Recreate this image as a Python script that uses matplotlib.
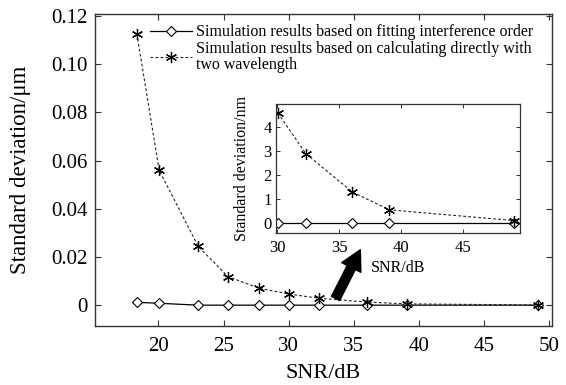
import matplotlib
matplotlib.use("Agg")
import matplotlib.pyplot as plt
import numpy as np

plt.rcParams['font.family'] = ['Liberation Serif', 'DejaVu Serif']
plt.rcParams['mathtext.fontset'] = 'stix'

# ---- data ----
snr = [18.34, 20.05, 23.05, 25.33, 27.70, 30.05, 32.30, 36.05, 39.05, 49.15]
std_fit = [0.0012, 0.0008, 0.00002, 0.00002, 0.00002, 0.00002, 0.00002, 0.00002, 0.00002, 0.00002]
std_direct = [0.1125, 0.0560, 0.0244, 0.0119, 0.0071, 0.0046, 0.0029, 0.0013, 0.00055, 0.0001]

inset_snr = snr[5:]
inset_fit_nm = [v * 1000 for v in std_fit[5:]]
inset_direct_nm = [v * 1000 for v in std_direct[5:]]

main_xticks = [20, 25, 30, 35, 40, 45, 50]
main_yticks = [0, 0.02, 0.04, 0.06, 0.08, 0.10, 0.12]
main_yticklabels = ['0', '0.02', '0.04', '0.06', '0.08', '0.10', '0.12']
inset_xticks = [30, 35, 40, 45]
inset_yticks = [0, 1, 2, 3, 4]

label_fit = 'Simulation results based on fitting interference order'
label_direct = 'Simulation results based on calculating directly with\ntwo wavelength'

W, H = 566, 385
fig = plt.figure(figsize=(W / 100, H / 100), dpi=100)

def rect(l, r, t, b):
    return [l / W, 1 - b / H, (r - l) / W, (b - t) / H]

spine_c = '#333333'
ast = (6, 2, 0)

ax = fig.add_axes(rect(94.7, 551.7, 14, 325.7))
ax.plot(snr, std_fit, '-', color='black', lw=0.9, marker='D', ms=5.5,
        mfc='white', mec='black', mew=0.8, label=label_fit)
ax.plot(snr, std_direct, linestyle=(0, (2.5, 2)), color='#222222', lw=0.8,
        marker=ast, ms=8, mec='black', mew=0.9, label=label_direct)
ax.set_xlim(15.1, 50.2)
ax.set_ylim(-0.0085, 0.1208)
ax.set_xticks(main_xticks)
ax.set_yticks(main_yticks)
ax.set_yticklabels(main_yticklabels)
ax.tick_params(direction='in', top=True, right=True, length=4, width=0.8,
               labelsize=15, color=spine_c)
ax.tick_params(axis='x', pad=8)
ax.tick_params(axis='y', pad=5)
for s in ax.spines.values():
    s.set_color(spine_c)
    s.set_linewidth(1.0)
ax.set_xlabel('SNR/dB', fontsize=16)
ax.set_ylabel('Standard deviation/μm', fontsize=16.5)
ax.xaxis.set_label_coords(0.5, -0.122)
ax.yaxis.set_label_coords(-0.14, 0.5)

leg = ax.legend(loc='upper left', bbox_to_anchor=(150 / W, 1 - 24.5 / H),
                bbox_transform=fig.transFigure, frameon=False, fontsize=11.5,
                numpoints=1, handlelength=2.6, handletextpad=0.3,
                labelspacing=0.05, borderpad=0, borderaxespad=0)
for t in leg.get_texts():
    t.set_linespacing(0.95)

# arrow (annotation)
ax.annotate('', xy=(35.5, 0.023), xytext=(33.6, 0.0028),
            arrowprops=dict(arrowstyle='simple,head_length=1.3,head_width=1.4,tail_width=0.6',
                            color='black', mutation_scale=11, shrinkA=0, shrinkB=0))

# inset
ax2 = fig.add_axes(rect(276, 520, 104, 233.3))
ax2.plot(inset_snr, inset_fit_nm, '-', color='black', lw=0.9, marker='D', ms=5.5,
         mfc='white', mec='black', mew=0.8)
ax2.plot(inset_snr, inset_direct_nm, linestyle=(0, (2.5, 2)), color='#222222', lw=0.8,
         marker=ast, ms=8, mec='black', mew=0.9)
ax2.set_xlim(29.9, 49.6)
ax2.set_ylim(-0.43, 4.97)
ax2.set_xticks(inset_xticks)
ax2.set_yticks(inset_yticks)
ax2.tick_params(direction='in', top=True, right=True, length=3, width=0.7,
                labelsize=12, color=spine_c)
ax2.tick_params(axis='x', pad=5)
ax2.tick_params(axis='y', pad=3)
for s in ax2.spines.values():
    s.set_color(spine_c)
    s.set_linewidth(0.9)
ax2.set_xlabel('SNR/dB', fontsize=11.5)
ax2.set_ylabel('Standard deviation/nm', fontsize=11.5)
ax2.xaxis.set_label_coords(0.5, -0.205)
ax2.yaxis.set_label_coords(-0.105, 0.5)

fig.savefig('out.png', dpi=100)
